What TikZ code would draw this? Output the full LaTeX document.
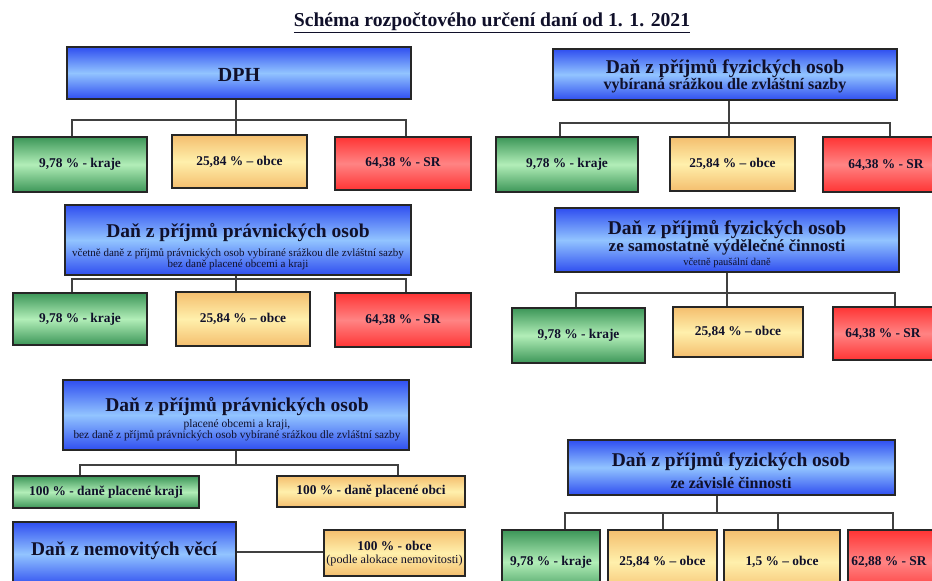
\documentclass[tikz,border=0pt]{standalone}
\usepackage{fontspec}
\setmainfont{Liberation Serif}
\definecolor{txt}{HTML}{10102A}
\definecolor{bT}{HTML}{2F4EF0}
\definecolor{bM}{HTML}{92C4FF}
\definecolor{gT}{HTML}{3C9658}
\definecolor{gM}{HTML}{B2EEB8}
\definecolor{yT}{HTML}{F4BE6E}
\definecolor{yM}{HTML}{FFF0AC}
\definecolor{rT}{HTML}{FF3434}
\definecolor{rM}{HTML}{FF8484}
\newcommand\ftTitle{\fontsize{19.7}{22}\selectfont\bfseries}
\newcommand\ftMain{\fontsize{19.5}{22}\selectfont\bfseries}
\newcommand\ftBig{\fontsize{20}{22}\selectfont\bfseries}
\newcommand\ftPct{\fontsize{13.4}{15}\selectfont\bfseries}
\newcommand\fs[1]{\fontsize{#1}{#1}\selectfont}
\newcommand\mybox[7]{\node[#1, minimum width={(#5-#3)*1pt}, minimum height={(#6-#4)*1pt}] (#2) at ({(#3+#5)/2},{(#4+#6)/2}) {#7};}
\newcommand\lbl[4]{\node[lbl] (#1) at (#2,#3) {#4};}
\tikzset{
  base/.style={draw=black!85, line width=1.3pt, inner sep=0pt, align=center, text=txt},
  bluebox/.style={base, top color=bT, bottom color=bT, middle color=bM},
  greenbox/.style={base, top color=gT, bottom color=gT, middle color=gM},
  yellowbox/.style={base, top color=yT, bottom color=yT, middle color=yM},
  redbox/.style={base, top color=rT, bottom color=rT, middle color=rM},
  lbl/.style={inner sep=0pt, text=txt, anchor=center},
  conn/.style={draw=black!75, line width=1.2pt}
}
\begin{document}
\begin{tikzpicture}[x=1pt,y=-1pt]
\useasboundingbox (0,0) rectangle (932,581);
\clip (0,0) rectangle (932,581);
\fill[white] (0,0) rectangle (932,581);
\node[text=txt, inner sep=0pt] (title) at (492,23) {\ftTitle\underline{Schéma rozpočtového určení daní od 1. 1. 2021}};

% ---- DPH
\mybox{bluebox}{b1}{67}{47}{411}{99}{}
\lbl{t1}{239}{75}{\ftBig DPH}
\mybox{greenbox}{g1}{13}{137}{147}{192}{\ftPct 9,78 \% - kraje}
\mybox{yellowbox}{y1}{172}{135}{307}{188}{\ftPct 25,84 \% – obce}
\mybox{redbox}{r1}{335}{137}{471}{190}{\ftPct 64,38 \% - SR}
\coordinate (j1) at (236,120);
\draw[conn] (j1 |- b1.south) -- (j1);
\draw[conn] (g1.north -| 72,0) |- (j1) -| (r1.north -| 406,0);
\draw[conn] (j1) -- (y1.north -| j1);

% ---- DPFO srazkou
\mybox{bluebox}{b2}{553}{49}{897}{100}{}
\lbl{t2a}{725}{69}{\ftMain Daň z příjmů fyzických osob}
\lbl{t2b}{725}{86}{\fs{16}\bfseries vybíraná srážkou dle zvláštní sazby}
\mybox{greenbox}{g2}{496}{137}{638}{192}{\ftPct 9,78 \% - kraje}
\mybox{yellowbox}{y2}{670}{137}{795}{191}{\ftPct 25,84 \% – obce}
\mybox{redbox}{r2}{823}{137}{964}{192}{}
\lbl{t2r}{886}{165}{\ftPct 64,38 \% - SR}
\coordinate (j2) at (729,123);
\draw[conn] (j2 |- b2.south) -- (j2);
\draw[conn] (g2.north -| 560,0) |- (j2) -| (r2.north -| 890,0);
\draw[conn] (j2) -- (y2.north -| j2);

% ---- DPPO
\mybox{bluebox}{b3}{65}{205}{411}{275}{}
\lbl{t3a}{238}{233}{\ftMain Daň z příjmů právnických osob}
\lbl{t3b}{238}{254}{\fs{11}včetně daně z příjmů právnických osob vybírané srážkou dle zvláštní sazby}
\lbl{t3c}{238}{265}{\fs{11}bez daně placené obcemi a kraji}
\mybox{greenbox}{g3}{13}{293}{147}{345}{\ftPct 9,78 \% - kraje}
\mybox{yellowbox}{y3}{176}{292}{310}{346}{\ftPct 25,84 \% – obce}
\mybox{redbox}{r3}{335}{293}{471}{347}{\ftPct 64,38 \% - SR}
\coordinate (j3) at (236,279);
\draw[conn] (j3 |- b3.south) -- (j3);
\draw[conn] (g3.north -| 72,0) |- (j3) -| (r3.north -| 406,0);
\draw[conn] (j3) -- (y3.north -| j3);

% ---- DPFO SVC
\mybox{bluebox}{b4}{555}{208}{899}{272}{}
\lbl{t4a}{727}{230}{\ftMain Daň z příjmů fyzických osob}
\lbl{t4b}{727}{247}{\fs{17}\bfseries ze samostatně výdělečné činnosti}
\lbl{t4c}{727}{263}{\fs{10.5}včetně paušální daně}
\mybox{greenbox}{g4}{512}{308}{645}{363}{\ftPct 9,78 \% - kraje}
\mybox{yellowbox}{y4}{673}{307}{803}{357}{\ftPct 25,84 \% – obce}
\mybox{redbox}{r4}{833}{307}{970}{360}{}
\lbl{t4r}{883}{334}{\ftPct 64,38 \% - SR}
\coordinate (j4) at (727,293);
\draw[conn] (j4 |- b4.south) -- (j4);
\draw[conn] (g4.north -| 576,0) |- (j4) -| (r4.north -| 895,0);
\draw[conn] (j4) -- (y4.north -| j4);

% ---- DPPO obce a kraje
\mybox{bluebox}{b5}{63}{380}{409}{450}{}
\lbl{t5a}{237}{407}{\ftMain Daň z příjmů právnických osob}
\lbl{t5b}{237}{425}{\fs{11.5}placené obcemi a kraji,}
\lbl{t5c}{237}{436}{\fs{11.3}bez daně z příjmů právnických osob vybírané srážkou dle zvláštní sazby}
\mybox{greenbox}{g5}{13}{476}{199}{508}{\ftPct 100 \% - daně placené kraji}
\mybox{yellowbox}{y5}{277}{476}{465}{507}{\ftPct 100 \% - daně placené obci}
\coordinate (j5) at (236,465);
\draw[conn] (j5 |- b5.south) -- (j5);
\draw[conn] (g5.north -| 80,0) |- (j5) -| (y5.north -| 398,0);

% ---- nemovitosti
\mybox{bluebox}{b7}{13}{522}{236}{586}{}
\lbl{t7}{124}{551}{\fs{19.4}\bfseries Daň z nemovitých věcí}
\mybox{yellowbox}{y7}{324}{530}{465}{576}{}
\lbl{t7a}{394.5}{546}{\ftPct 100 \% - obce}
\lbl{t7b}{394.5}{561}{\fs{12.2}(podle alokace nemovitosti)}
\draw[conn] (b7.east |- 0,552) -- (y7.west |- 0,552);

% ---- DPFO ZC
\mybox{bluebox}{b6}{568}{440}{895}{495}{}
\lbl{t6a}{731}{462}{\ftMain Daň z příjmů fyzických osob}
\lbl{t6b}{731}{483}{\fs{16}\bfseries ze závislé činnosti}
\mybox{greenbox}{g6}{502}{530}{600}{594}{\ftPct 9,78 \% - kraje}
\mybox{yellowbox}{y6}{608}{530}{717}{594}{\ftPct 25,84 \% – obce}
\mybox{yellowbox}{y8}{724}{530}{840}{594}{\ftPct 1,5 \% – obce}
\mybox{redbox}{r6}{848}{530}{968}{594}{}
\lbl{t6r}{889}{562}{\ftPct 62,88 \% - SR}
\coordinate (j6) at (717,513);
\draw[conn] (j6 |- b6.south) -- (j6);
\draw[conn] (g6.north -| 565,0) |- (j6) -| (r6.north -| 893,0);
\draw[conn] (y6.north -| 663,0) -- (663,513);
\draw[conn] (y8.north -| 778,0) -- (778,513);
\end{tikzpicture}
\end{document}
